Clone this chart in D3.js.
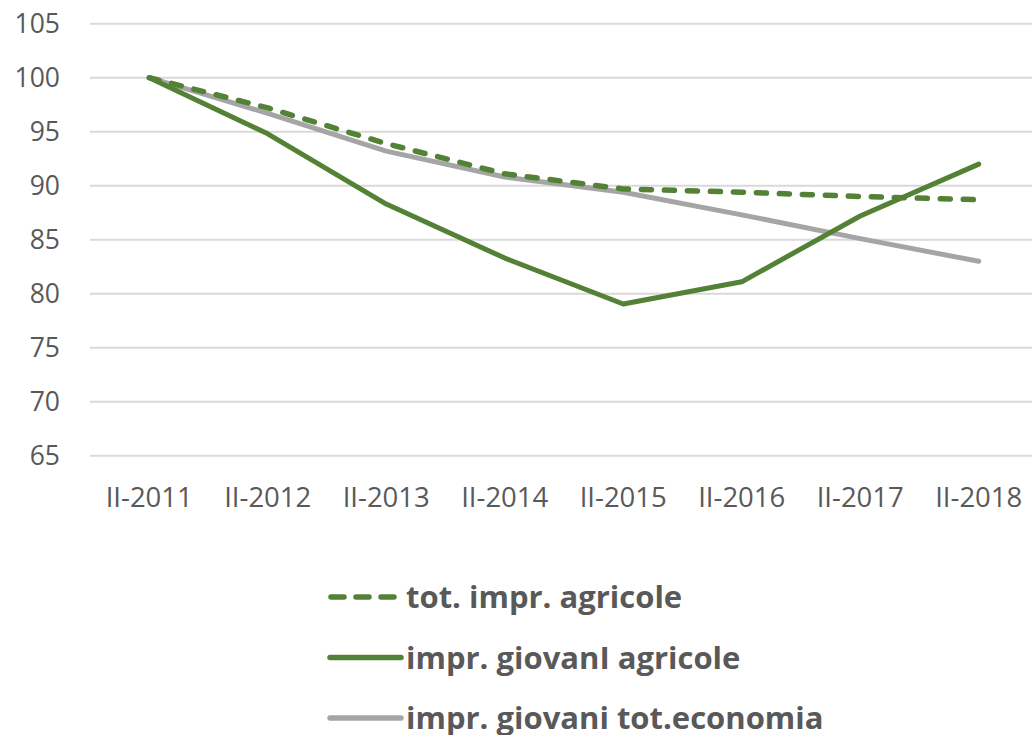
<!DOCTYPE html>
<html>
<head>
<meta charset="utf-8">
<script src="https://cdn.jsdelivr.net/npm/d3@7"></script>
<style>
  html, body { margin: 0; padding: 0; background: #fff; }
  svg { display: block; font-family: "Open Sans", sans-serif; }
</style>
</head>
<body>
<div id="chart"></div>
<script>
const categories = ['II-2011', 'II-2012', 'II-2013', 'II-2014', 'II-2015', 'II-2016', 'II-2017', 'II-2018'];
const totAgricole = [100, 97.2, 93.9, 91.1, 89.7, 89.4, 89.0, 88.7];
const giovaniAgricole = [100, 94.8, 88.3, 83.3, 79.05, 81.1, 87.2, 92.0];
const giovaniEconomia = [100, 96.7, 93.2, 90.8, 89.4, 87.3, 85.1, 83.0];
const yTicks = [65, 70, 75, 80, 85, 90, 95, 100, 105];
const seriesNames = ['tot. impr. agricole', 'impr. giovanI agricole', 'impr. giovani tot.economia'];

const width = 1032;
const height = 735;
const green = '#538135';
const grey = '#A5A5A5';
const textColor = '#595959';

const series = [
  { name: seriesNames[0], values: totAgricole, color: green, dash: '10,13' },
  { name: seriesNames[1], values: giovaniAgricole, color: green, dash: null },
  { name: seriesNames[2], values: giovaniEconomia, color: grey, dash: null }
];

const x = d3.scaleBand()
  .domain(categories)
  .range([90, 1038])
  .padding(0);

const y = d3.scaleLinear()
  .domain([65, 105])
  .range([455.7, 23.7]);

const svg = d3.select('#chart')
  .append('svg')
  .attr('width', width)
  .attr('height', height);

// gridlines
svg.append('g')
  .selectAll('line')
  .data(yTicks)
  .join('line')
  .attr('x1', 90)
  .attr('x2', 1038)
  .attr('y1', d => y(d))
  .attr('y2', d => y(d))
  .style('stroke', '#D9D9D9')
  .style('stroke-width', 2);

// y labels
svg.append('g')
  .selectAll('text')
  .data(yTicks)
  .join('text')
  .attr('x', 60)
  .attr('y', d => y(d))
  .attr('dy', '0.36em')
  .attr('text-anchor', 'end')
  .style('font-size', '26.5px')
  .style('fill', textColor)
  .text(d => d);

// x labels
svg.append('g')
  .selectAll('text')
  .data(categories)
  .join('text')
  .attr('x', d => x(d) + x.bandwidth() / 2)
  .attr('y', 507)
  .attr('text-anchor', 'middle')
  .style('font-size', '27.5px')
  .style('fill', textColor)
  .text(d => d);

const line = d3.line()
  .x((d, i) => x(categories[i]) + x.bandwidth() / 2)
  .y(d => y(d));

// draw grey first, then solid green, dashed on top
[series[2], series[1], series[0]].forEach(s => {
  svg.append('path')
    .datum(s.values)
    .attr('d', line)
    .style('fill', 'none')
    .style('stroke', s.color)
    .style('stroke-width', s.dash ? 5.5 : 5)
    .style('stroke-linecap', 'round')
    .style('stroke-linejoin', 'round')
    .style('stroke-dasharray', s.dash);
});

// legend
const legend = svg.append('g')
  .selectAll('g')
  .data(series)
  .join('g')
  .attr('transform', (d, i) => `translate(0,${597 + i * 60.5})`);

legend.append('line')
  .attr('x1', (d, i) => i === 0 ? 331 : 330)
  .attr('x2', (d, i) => i === 0 ? 394 : 401)
  .attr('y1', 0)
  .attr('y2', 0)
  .style('stroke', d => d.color)
  .style('stroke-width', 5.5)
  .style('stroke-linecap', 'round')
  .style('stroke-dasharray', d => d.dash ? '13,12' : null);

legend.append('text')
  .attr('x', 406)
  .attr('y', 0)
  .attr('dy', '0.36em')
  .style('font-size', '31px')
  .style('font-weight', 'bold')
  .style('fill', textColor)
  .text(d => d.name);
</script>
</body>
</html>
